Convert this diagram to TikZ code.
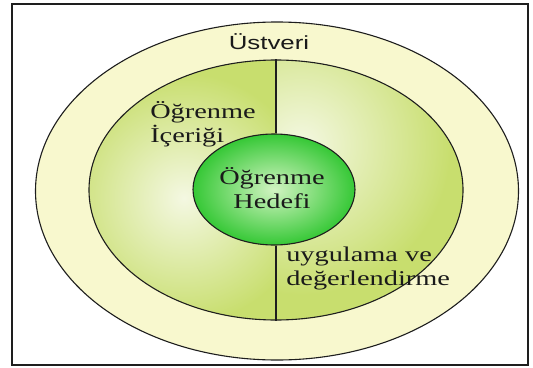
\documentclass[tikz,border=0pt]{standalone}
\usepackage{fontspec}
\setmainfont{Liberation Serif}
\newfontfamily\labelsans{Liberation Sans}
\usetikzlibrary{shapes.geometric}
\definecolor{ringfill}{HTML}{F8F8CE}
\definecolor{contentedge}{HTML}{C8DE6E}
\definecolor{contentlight}{HTML}{F4F8E2}
\definecolor{goaledge}{HTML}{36C836}
\definecolor{goallight}{HTML}{D2F4C2}
\definecolor{outline}{HTML}{1E1E1E}
\definecolor{inktext}{HTML}{1A1A1A}
\tikzset{
  ringshape/.style={ellipse, draw=outline, line width=1.1pt, inner sep=0pt},
  serifwide/.style={font=\fontsize{21}{24}\selectfont, text=inktext, xscale=1.35, inner sep=0pt, align=left},
  sanswide/.style={font=\labelsans\fontsize{19}{22}\selectfont, text=inktext, xscale=1.36, inner sep=0pt},
  divider/.style={draw=outline, line width=1.4pt}
}
\begin{document}
\begin{tikzpicture}[x=1pt,y=-1pt]
\useasboundingbox (0,0) rectangle (533,367);
% frame
\node[draw=outline, line width=1.4pt, minimum width=516pt, minimum height=361pt, inner sep=0pt] (frame) at (270,184.5) {};
% outer ring: metadata
\node[ringshape, fill=ringfill, minimum width=483pt, minimum height=338pt] (meta) at (277,191) {};
% content ellipse with two softly shaded halves
\node[ringshape, minimum width=374pt, minimum height=260pt,
  path picture={
    \fill[contentedge] (path picture bounding box.south west) rectangle (path picture bounding box.north east);
    \begin{scope}
      \clip (path picture bounding box.south west) rectangle ([xshift=-1pt]path picture bounding box.north);
      \shade[inner color=contentlight, outer color=contentedge] ([xshift=-92pt,yshift=-8pt]path picture bounding box.center) circle (125pt);
    \end{scope}
    \begin{scope}
      \clip ([xshift=1pt]path picture bounding box.south) rectangle (path picture bounding box.north east);
      \shade[inner color=contentlight, outer color=contentedge] ([xshift=25pt,yshift=45pt]path picture bounding box.center) circle (150pt);
    \end{scope}
  }] (content) at (276,190) {};
% goal circle
\node[ringshape, minimum width=162pt, minimum height=111pt, inner color=goallight, outer color=goaledge] (goal) at (274,189.5) {};
% dividing line
\draw[divider] (content.north) -- (content.north |- goal.north);
\draw[divider] (content.south) -- (content.south |- goal.south);
% labels
\node[sanswide] (metalabel) at (269,42) {Üstveri};
\node[serifwide, anchor=west] (contentlabel) at (150,124) {Öğrenme\\İçeriği};
\node[serifwide, align=center] (goallabel) at (272,188) {Öğrenme\\Hedefi};
\node[serifwide, anchor=west] (evallabel) at (286,268) {uygulama ve\\değerlendirme};
\end{tikzpicture}
\end{document}
